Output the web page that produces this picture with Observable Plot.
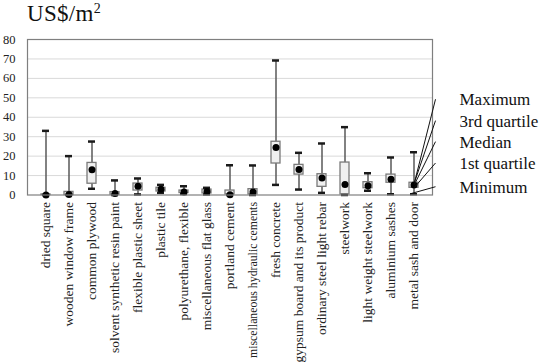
<!DOCTYPE html>
<html>
<head>
<meta charset="utf-8">
<script src="https://cdn.jsdelivr.net/npm/d3@7"></script>
<script src="https://cdn.jsdelivr.net/npm/@observablehq/plot@0.6"></script>
<style>
  html, body { margin: 0; padding: 0; background: #fff; }
  body { width: 550px; height: 364px; overflow: hidden; font-family: "Liberation Serif", serif; }
  #title { height: 30px; position: relative; }
  #title span { position: absolute; left: 27px; top: 0px; font-size: 23px; line-height: 27px; color: #111; letter-spacing: 0.3px; }
  #title sup { font-size: 14px; vertical-align: 8px; line-height: 0; }
  #chart svg, #chart svg text { font-family: "Liberation Serif", serif !important; }
</style>
</head>
<body>
<div id="title"><span>US$/m<sup>2</sup></span></div>
<div id="chart"></div>
<script>
const categories = ["dried square","wooden window frame","common plywood","solvent synthetic resin paint","flexible plastic sheet","plastic tile","polyurethane, flexible","miscellaneous flat glass","portland cement","miscellaneous hydraulic cements","fresh concrete","gypsum board and its product","ordinary steel light rebar","steelwork","light weight steelwork","aluminium sashes","metal sash and door"];
const minimum  = [0,   0,   3.2, 0,   0.3, 1.1, 0.5, 0.3, 0,   0,   5.2,  2.8,  1.1,  0,    2.2, 0.4,  0.4];
const quartile1= [0,   0,   5.8, 0.2, 2.3, 1.8, 1.0, 0.8, 0.3, 0.3, 16.2, 10.5, 4.2,  0.3,  3.5, 6.3,  3.7];
const median   = [0,   0.3, 13,  0.8, 4.5, 3.0, 1.6, 1.8, 0.1, 1.5, 24.4, 13.1, 8.8,  5.4,  4.7, 8.1,  5.2];
const quartile3= [0.3, 1.6, 16.5,1.5, 5.9, 3.7, 2.3, 2.8, 2.3, 3.0, 27.4, 15.5, 10.7, 16.7, 6.6, 10.5, 6.3];
const maximum  = [33,  20,  27.5,7.5, 8.5, 5.2, 4.5, 3.7, 15.3,15.2,69.2, 21.7, 26.5, 34.9, 11.2, 19.3, 22];
const yTicks = [0,10,20,30,40,50,60,70,80];
const gridTicks = [10,20,30,40,50,60,70];
const legendLabels = ["Maximum","3rd quartile","Median","1st quartile","Minimum"];
const legendTargets = [maximum, quartile3, median, quartile1, minimum];

const data = categories.map((c,i) => ({cat: c, min: minimum[i], q1: quartile1[i], med: median[i], q3: quartile3[i], max: maximum[i]}));

const plot = Plot.plot({
  width: 550,
  height: 334,
  marginTop: 9,
  marginLeft: 27,
  marginRight: 118,
  marginBottom: 169.5,
  style: {fontFamily: "'Liberation Serif', serif", fontSize: "12.5px", color: "#222", background: "#fff"},
  x: {domain: categories, padding: 0, label: null, tickSize: 0, tickRotate: -90, tickPadding: 7},
  y: {domain: [0, 80], ticks: yTicks, label: null, tickSize: 0, tickPadding: 12},
  marks: [
    Plot.ruleY(gridTicks, {stroke: "#d9d9d9", strokeWidth: 1}),
    Plot.ruleX(data, {x: "cat", y1: "min", y2: "max", stroke: "#595959", strokeWidth: 1.5}),
    Plot.barY(data, {x: "cat", y1: "q1", y2: "q3", fill: "#f0f0f0", stroke: "#7a7a7a", strokeWidth: 1.3, insetLeft: 7, insetRight: 7}),
    Plot.tickY(data, {x: "cat", y: "max", stroke: "#1a1a1a", strokeWidth: 2.5, inset: 8}),
    Plot.tickY(data, {x: "cat", y: "min", stroke: "#1a1a1a", strokeWidth: 2.5, inset: 8}),
    Plot.dot(data, {x: "cat", y: "med", r: 3.5, fill: "#000", stroke: "none"}),
    Plot.frame({stroke: "#7f7f7f", strokeWidth: 1.2})
  ]
});
document.getElementById("chart").appendChild(plot);

const catSet = new Set(categories);
d3.select(plot).selectAll("text").filter(function(){ return catSet.has(this.textContent); })
  .style("font-size", "13.5px");
d3.select(plot).selectAll("text").filter(function(){ return this.textContent === "miscellaneous hydraulic cements"; })
  .style("font-size", "11.8px");

const sx = plot.scale("x"), sy = plot.scale("y");
const last = categories.length - 1;
const cx = sx.apply(categories[last]) + sx.bandwidth / 2;
const g = d3.select(plot).append("g");
const labelYs = [49, 38, 27.2, 16.2, 4];
legendLabels.forEach((lab, k) => {
  const ly = sy.apply(labelYs[k]);
  const tv = legendTargets[k][last];
  let tx = cx + 1, ty = sy.apply(tv);
  if (k === 0) ty = sy.apply(quartile3[last]);
  if (k === 4) tx = cx - 3;
  g.append("line").attr("x1", cx + 22).attr("y1", ly).attr("x2", tx).attr("y2", ty)
    .attr("stroke", "#111").attr("stroke-width", 1);
  g.append("text").attr("x", cx + 46).attr("y", ly).attr("dy", "0.35em")
    .attr("text-anchor", "start")
    .style("font-size", "17px").attr("fill", "#111").text(lab);
});
</script>
</body>
</html>
